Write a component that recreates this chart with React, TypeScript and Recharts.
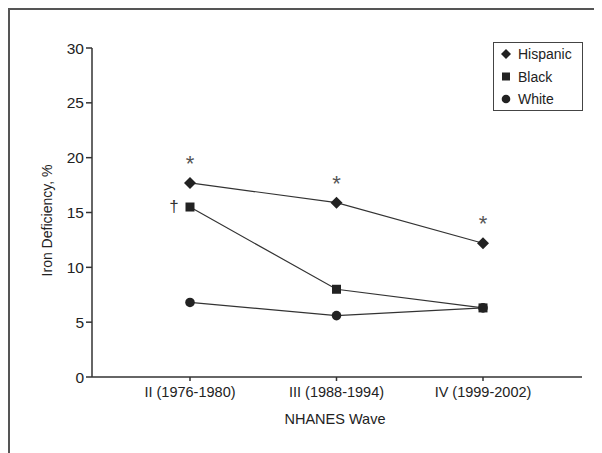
import React from 'react';
import { LineChart, Line, XAxis, YAxis, LabelList } from 'recharts';

// Data
const waves = ['II (1976-1980)', 'III (1988-1994)', 'IV (1999-2002)'];
const hispanic = [17.7, 15.9, 12.2];
const black = [15.5, 8.0, 6.3];
const white = [6.8, 5.6, 6.3];
const hispanicNotes = ['*', '*', '*'];
const blackNotes = ['†', '', ''];
const yTicks = [0, 5, 10, 15, 20, 25, 30];

const FONT = '"Liberation Sans Narrow", "Arial Narrow", "Liberation Sans", Arial, sans-serif';
const INK = '#222';
const LINE = '#333';

const data = waves.map((name, i) => ({
  name,
  hispanic: hispanic[i],
  black: black[i],
  white: white[i],
  hNote: hispanicNotes[i],
  bNote: blackNotes[i],
}));

const Diamond = ({ cx, cy, size = 6 }: any) => (
  <polygon points={`${cx},${cy - size} ${cx + size},${cy} ${cx},${cy + size} ${cx - size},${cy}`} fill={INK} />
);
const Square = ({ cx, cy, size = 4.5 }: any) => (
  <rect x={cx - size} y={cy - size} width={size * 2} height={size * 2} fill={INK} />
);
const Dot = ({ cx, cy, r = 4.8 }: any) => <circle cx={cx} cy={cy} r={r} fill={INK} />;

const StarLabel = (props: any) => {
  const { x, y, value } = props;
  if (!value) return null;
  return (
    <text x={x} y={y - 12} textAnchor="middle" fontSize={22} fontFamily="Liberation Sans" fill="#555">
      {value}
    </text>
  );
};

const DaggerLabel = (props: any) => {
  const { x, y, value } = props;
  if (!value) return null;
  return (
    <text x={x - 16} y={y + 5} textAnchor="middle" fontSize={17} fontFamily="Liberation Sans" fill="#333">
      {value}
    </text>
  );
};

const legendItems = [
  { label: 'Hispanic', shape: 'diamond' },
  { label: 'Black', shape: 'square' },
  { label: 'White', shape: 'circle' },
];

const LegendBox = () => (
  <svg width={90} height={69} style={{ display: 'block' }}>
    <rect x={0.5} y={0.5} width={89} height={68} fill="#fff" stroke="#444" strokeWidth={1} />
    {legendItems.map((it, i) => {
      const cy = 12 + i * 22.5;
      return (
        <g key={it.label}>
          {it.shape === 'diamond' && <Diamond cx={13} cy={cy} size={5} />}
          {it.shape === 'square' && <Square cx={13} cy={cy} size={4} />}
          {it.shape === 'circle' && <Dot cx={13} cy={cy} r={4.3} />}
          <text x={25} y={cy + 5} fontSize={14} fontFamily={FONT} fill={INK}>
            {it.label}
          </text>
        </g>
      );
    })}
  </svg>
);

const App = () => (
  <div
    style={{
      position: 'relative',
      width: 594,
      height: 445,
      borderTop: '2px solid #555',
      borderLeft: '2px solid #555',
      background: '#fff',
    }}
  >
    <LineChart width={592} height={443} data={data} margin={{ top: 38, right: 20, bottom: 26, left: 42 }}>
      <XAxis
        dataKey="name"
        scale="point"
        padding={{ left: 98, right: 99 }}
        height={50}
        tickSize={4}
        tickMargin={6}
        stroke={LINE}
        strokeWidth={1.5}
        tick={{ fill: INK, fontSize: 14.5, fontFamily: FONT }}
        label={{
          content: ({ viewBox }: any) => (
            <text
              x={viewBox.x + viewBox.width / 2 - 2}
              y={viewBox.y + 47}
              textAnchor="middle"
              fontSize={14.5}
              fontFamily={FONT}
              fill={INK}
            >
              NHANES Wave
            </text>
          ),
        }}
      />
      <YAxis
        domain={[0, 30]}
        ticks={yTicks}
        width={40}
        tickSize={6}
        tickMargin={2}
        stroke={LINE}
        strokeWidth={1.5}
        tick={{ fill: INK, fontSize: 15.5, fontFamily: FONT }}
        label={{
          content: ({ viewBox }: any) => {
            const x = viewBox.x;
            const y = viewBox.y + viewBox.height / 2 + 8;
            return (
              <text
                x={x}
                y={y}
                transform={`rotate(-90, ${x}, ${y})`}
                textAnchor="middle"
                fontSize={14}
                fontFamily={FONT}
                fill={INK}
              >
                Iron Deficiency, %
              </text>
            );
          },
        }}
      />
      <Line
        dataKey="hispanic"
        name="Hispanic"
        stroke={LINE}
        strokeWidth={1.2}
        isAnimationActive={false}
        dot={(p: any) => <Diamond key={`h${p.index}`} cx={p.cx} cy={p.cy} />}
      >
        <LabelList dataKey="hNote" content={StarLabel} />
      </Line>
      <Line
        dataKey="black"
        name="Black"
        stroke={LINE}
        strokeWidth={1.2}
        isAnimationActive={false}
        dot={(p: any) => <Square key={`b${p.index}`} cx={p.cx} cy={p.cy} />}
      >
        <LabelList dataKey="bNote" content={DaggerLabel} />
      </Line>
      <Line
        dataKey="white"
        name="White"
        stroke={LINE}
        strokeWidth={1.2}
        isAnimationActive={false}
        dot={(p: any) => <Dot key={`w${p.index}`} cx={p.cx} cy={p.cy} />}
      />
    </LineChart>
    <div style={{ position: 'absolute', left: 483, top: 32 }}>
      <LegendBox />
    </div>
  </div>
);

export default App;
